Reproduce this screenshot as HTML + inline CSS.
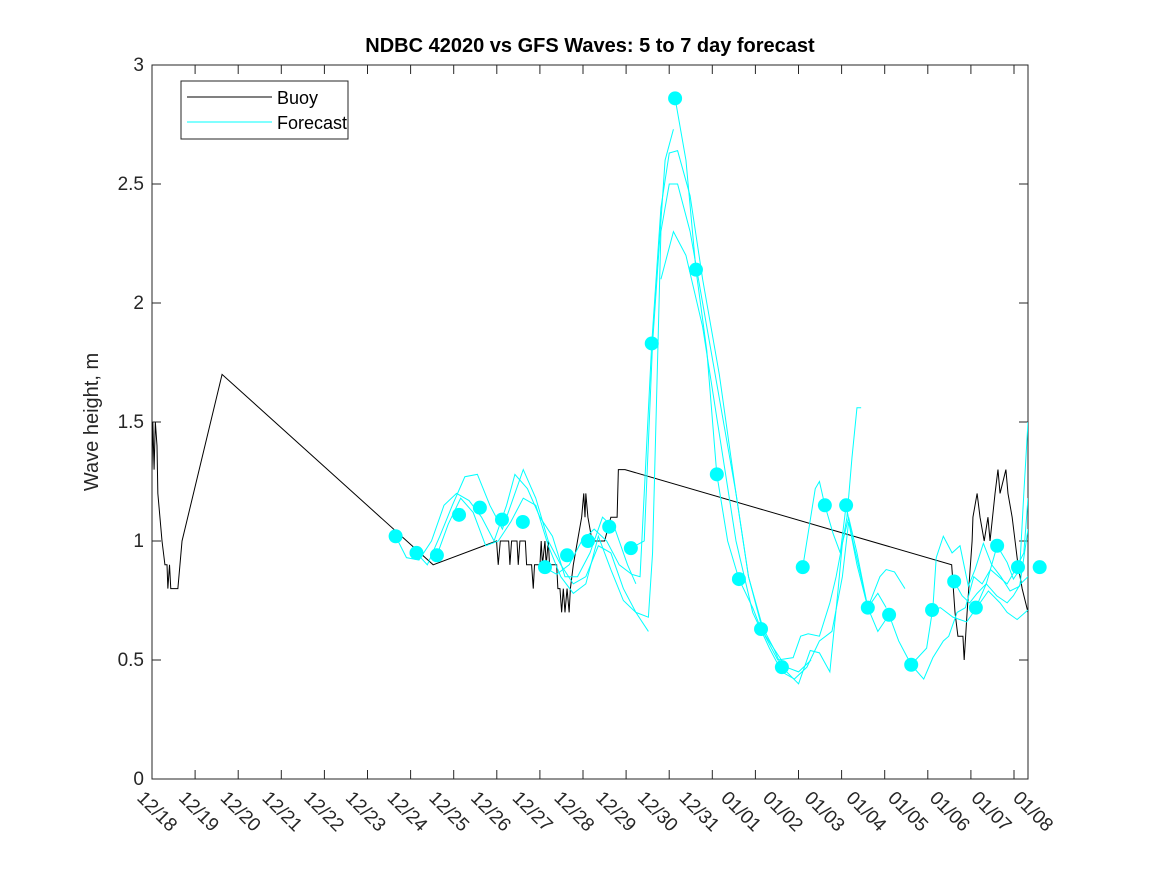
<!DOCTYPE html>
<html><head><meta charset="utf-8"><style>
body{margin:0;background:#fff;}
svg{display:block;font-family:"Liberation Sans",sans-serif;}
</style></head><body>
<svg id="chart" width="1167" height="875" xmlns="http://www.w3.org/2000/svg">
<rect x="0" y="0" width="1167" height="875" fill="#fff"/>
<text x="590" y="52" text-anchor="middle" font-size="20" font-weight="bold" fill="#000">NDBC 42020 vs GFS Waves: 5 to 7 day forecast</text>
<text transform="translate(98,422) rotate(-90)" text-anchor="middle" font-size="20" fill="#262626">Wave height, m</text>
<g id="axes"></g>
<g id="plot"></g>
<g id="legend">
<rect x="181" y="81" width="167" height="58" fill="#fff" stroke="#262626" stroke-width="1"/>
<line x1="187" y1="97" x2="272" y2="97" stroke="#000" stroke-width="1"/>
<text x="277" y="104" font-size="18" fill="#000">Buoy</text>
<line x1="187" y1="122" x2="272" y2="122" stroke="#00ffff" stroke-width="1"/>
<text x="277" y="129" font-size="18" fill="#000">Forecast</text>
</g>
</svg>
<script>
const xTickLabels=["12/18","12/19","12/20","12/21","12/22","12/23","12/24","12/25","12/26","12/27","12/28","12/29","12/30","12/31","01/01","01/02","01/03","01/04","01/05","01/06","01/07","01/08"];
const yTicks=[0,0.5,1,1.5,2,2.5,3];
const buoyDays=[0,0.02,0.05,0.08,0.12,0.14,0.19,0.24,0.31,0.36,0.38,0.42,0.45,0.62,0.67,0.72,1.68,6.74,8.26,8.3,8.35,8.55,8.58,8.62,8.75,8.78,8.82,8.95,8.98,9.0,9.1,9.14,9.17,9.3,9.33,9.36,9.42,9.45,9.5,9.53,9.7,9.73,9.78,9.82,9.86,9.9,9.95,10.0,10.03,10.1,10.2,10.3,10.35,10.38,10.4,10.45,10.55,10.85,11.0,11.15,11.18,11.34,19.17,19.25,19.32,19.44,19.47,19.54,19.66,19.68,19.78,19.85,19.95,20.04,20.09,20.21,20.28,20.33,20.47,20.52,20.62,20.69,20.76,20.86,21.0];
const buoyValues=[1.3,1.5,1.3,1.5,1.4,1.2,1.1,1.0,0.9,0.9,0.8,0.9,0.8,0.8,0.9,1.0,1.7,0.9,1.0,0.9,1.0,1.0,0.9,1.0,1.0,0.9,1.0,1.0,0.9,0.9,0.9,0.8,0.9,0.9,1.0,0.9,1.0,0.9,1.0,0.9,0.9,0.8,0.8,0.7,0.8,0.7,0.8,0.7,0.8,0.9,1.0,1.1,1.2,1.1,1.2,1.1,1.0,1.0,1.1,1.1,1.3,1.3,0.9,0.7,0.6,0.6,0.5,0.7,1.0,1.1,1.2,1.1,1.0,1.1,1.0,1.2,1.3,1.2,1.3,1.2,1.1,1.0,0.9,0.8,0.7];
const dotDays=[5.84,6.34,6.83,7.36,7.86,8.39,8.89,9.42,9.95,10.45,10.96,11.48,11.98,12.54,13.04,13.54,14.07,14.6,15.1,15.6,16.13,16.64,17.16,17.67,18.2,18.7,19.23,19.75,20.26,20.76,21.28];
const dotValues=[1.02,0.95,0.94,1.11,1.14,1.09,1.08,0.89,0.94,1.0,1.06,0.97,1.83,2.86,2.14,1.28,0.84,0.63,0.47,0.89,1.15,1.15,0.72,0.69,0.48,0.71,0.83,0.72,0.98,0.89,0.89];
const forecast1=[[5.84,1.02],[6.1,0.93],[6.4,0.92],[6.7,1.0],[7.0,1.15],[7.3,1.2],[7.6,1.17],[7.9,1.1],[8.2,1.0],[8.5,1.15],[8.7,1.28],[9.0,1.22],[9.3,1.1],[9.6,1.02],[9.9,0.85],[10.2,0.85],[10.5,0.95],[10.8,1.1],[11.1,1.05],[11.4,0.9],[11.6,0.82]];
const forecast2=[[6.34,0.95],[6.6,0.9],[6.9,1.02],[7.2,1.15],[7.5,1.27],[7.8,1.28],[8.1,1.15],[8.4,1.05],[8.6,1.15],[8.9,1.3],[9.2,1.18],[9.5,1.0],[9.8,0.9],[10.1,0.82],[10.4,0.85],[10.7,0.98],[11.0,0.95],[11.3,0.8],[11.6,0.7],[11.9,0.62]];
const forecast3=[[6.83,0.94],[7.1,1.07],[7.4,1.18],[7.7,1.12],[8.0,0.98],[8.3,1.0],[8.6,1.08],[8.9,1.18],[9.2,1.15],[9.5,0.98],[9.8,0.85],[10.1,0.78],[10.4,0.82],[10.7,1.02],[11.0,0.88],[11.3,0.75],[11.6,0.7],[11.9,0.68],[12.0,0.95],[12.2,2.3],[12.4,2.5],[12.6,2.5],[12.9,2.3],[13.2,2.0],[13.6,1.6],[14.0,1.2],[14.3,0.85],[14.6,0.65],[14.9,0.55],[15.2,0.47],[15.5,0.45],[15.8,0.5]];
const forecast4=[[9.4,0.89],[9.7,0.86],[10.0,0.9],[10.3,1.0],[10.6,1.05],[10.9,1.0],[11.2,0.9],[11.5,0.86],[11.7,0.85],[11.98,1.83],[12.2,2.4],[12.4,2.63],[12.6,2.64],[12.9,2.45],[13.2,2.1],[13.6,1.7],[14.0,1.2],[14.3,0.85],[14.7,0.6],[15.0,0.5],[15.37,0.51],[15.55,0.6],[15.73,0.61],[16.0,0.6],[16.25,0.74],[16.4,0.85],[16.55,0.99],[16.66,1.1],[16.78,1.35],[16.9,1.56],[17.0,1.56]];
const forecast5=[[11.48,0.97],[11.8,1.0],[12.0,1.83],[12.3,2.6],[12.5,2.73]];
const forecast6=[[12.54,2.86],[12.8,2.6],[13.04,2.14],[13.3,1.8],[13.54,1.28],[13.8,1.0],[14.07,0.84],[14.4,0.72],[14.6,0.63],[14.9,0.55],[15.1,0.47],[15.5,0.4],[15.78,0.54],[16.0,0.53],[16.25,0.45],[16.45,0.8],[16.55,0.99],[16.7,1.1],[16.9,0.95],[17.16,0.72],[17.45,0.85],[17.6,0.88],[17.8,0.87],[18.05,0.8]];
const forecast7=[[12.2,2.1],[12.5,2.3],[12.8,2.2],[13.2,1.9],[13.6,1.45],[14.0,1.0],[14.4,0.7],[14.8,0.55],[15.1,0.45],[15.4,0.42],[15.7,0.47],[16.0,0.58],[16.3,0.62],[16.55,0.85],[16.7,1.08],[16.9,0.9],[17.16,0.72],[17.4,0.78],[17.6,0.72]];
const forecast8=[[15.6,0.89],[15.9,1.22],[16.0,1.25],[16.13,1.15],[16.33,1.03],[16.5,0.95],[16.64,1.15],[16.8,1.0],[17.0,0.85],[17.16,0.72],[17.4,0.62],[17.67,0.69],[17.9,0.58],[18.2,0.48],[18.57,0.55],[18.72,0.72],[18.8,0.93],[18.97,1.02],[19.18,0.95],[19.37,0.98],[19.57,0.81],[19.73,0.88],[19.93,0.99],[20.13,0.9],[20.35,0.85],[20.57,0.79],[20.8,0.81],[21.0,1.05]];
const forecast9=[[18.2,0.48],[18.5,0.42],[18.72,0.51],[18.97,0.58],[19.1,0.6],[19.3,0.7],[19.5,0.72],[19.7,0.85],[19.9,0.82],[20.1,0.88],[20.3,0.85],[20.5,0.82],[20.7,0.88],[20.9,0.95],[21.0,1.18]];
const forecast10=[[19.75,0.72],[20.0,0.82],[20.26,0.98],[20.5,0.91],[20.65,0.84],[20.8,0.88],[20.9,1.2],[21.0,1.5]];
const forecast11=[[18.7,0.71],[18.9,0.72],[19.2,0.68],[19.53,0.66],[19.85,0.74],[20.05,0.79],[20.33,0.74],[20.5,0.7],[20.74,0.67],[21.0,0.71]];
const forecast12=[[19.23,0.83],[19.42,0.77],[19.6,0.74],[19.78,0.78],[20.0,0.82],[20.25,0.77],[20.5,0.74],[20.65,0.77],[20.82,0.82],[21.0,0.85]];

const X0=152,X1=1028,Y0=779,Y1=65,NS="http://www.w3.org/2000/svg";
const xs=d=>X0+d*(X1-X0)/21;
const ys=v=>Y0-v*(Y0-Y1)/3;
function mk(tag,attrs,parent){const e=document.createElementNS(NS,tag);for(const k in attrs)e.setAttribute(k,attrs[k]);parent.appendChild(e);return e;}
const axes=document.getElementById('axes'),plot=document.getElementById('plot');
const defs=mk('defs',{},document.getElementById('chart'));
const cp=mk('clipPath',{id:'clip'},defs);
mk('rect',{x:X0,y:Y1,width:X1-X0,height:Y0-Y1},cp);
plot.setAttribute('clip-path','url(#clip)');
const box=mk('rect',{x:X0,y:Y1,width:X1-X0,height:Y0-Y1,fill:'none',stroke:'#262626','stroke-width':1},axes);


for(let k=1;k<=20;k++){
  const x=X0+k*43.1;
  const t1=mk('line',{x1:x,y1:Y0,x2:x,y2:Y0-9,stroke:'#262626'},axes);
  
  
  const t2=mk('line',{x1:x,y1:Y1,x2:x,y2:Y1+9,stroke:'#262626'},axes);
  
  
}
xTickLabels.forEach((lab,i)=>{
  const x=xs(i);
  const tx=mk('text',{x:x-16,y:Y0+20,'font-size':19,fill:'#262626',transform:`rotate(45 ${x-16} ${Y0+20})`},axes);
  tx.textContent=lab;
  
  
});
yTicks.forEach(v=>{
  const y=ys(v);
  const t1=mk('line',{x1:X0,y1:y,x2:X0+9,y2:y,stroke:'#262626'},axes);
  
  
  const t2=mk('line',{x1:X1,y1:y,x2:X1-9,y2:y,stroke:'#262626'},axes);
  
  
  const tx=mk('text',{x:X0-8,y:y+6,'font-size':19,fill:'#262626','text-anchor':'end'},axes);
  tx.textContent=String(v);
  
  
});
const buoyPts=buoyDays.map((d,i)=>xs(d)+','+ys(buoyValues[i])).join(' ');
const bl=mk('polyline',{points:buoyPts,fill:'none',stroke:'#000','stroke-width':1},plot);


[forecast1,forecast2,forecast3,forecast4,forecast5,forecast6,forecast7,forecast8,forecast9,forecast10,forecast11,forecast12].forEach(s=>{
  const p=mk('polyline',{points:s.map(q=>xs(q[0])+','+ys(q[1])).join(' '),fill:'none',stroke:'#00ffff','stroke-width':1},plot);
  
  
});
const dotsG=mk('g',{},document.getElementById('chart'));


dotDays.forEach((d,i)=>{
  const c=mk('circle',{cx:xs(d),cy:ys(dotValues[i]),r:7,fill:'#00ffff'},dotsG);
  
  
});
</script>
</body></html>
